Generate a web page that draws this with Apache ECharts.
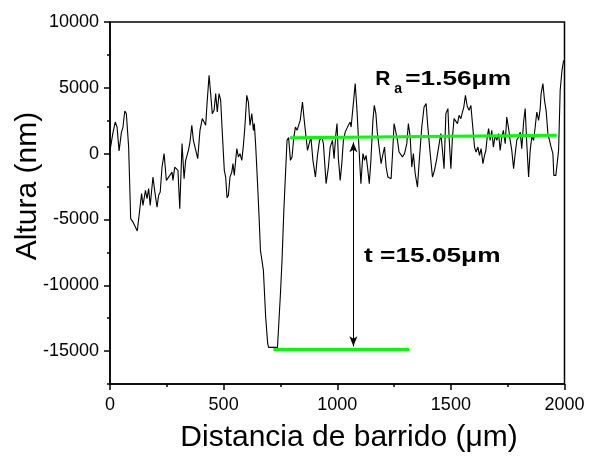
<!DOCTYPE html>
<html><head><meta charset="utf-8">
<script src="https://cdn.jsdelivr.net/npm/echarts@6/dist/echarts.min.js"></script>
<style>html,body{margin:0;padding:0;background:#fff}#c{width:589px;height:456px}</style>
</head><body><div id="c"></div>
<script>
// profile: scan distance (µm) and height (nm)
const distance = [0,12,23,31,40,50,57,65,72,82,91,101,109,120,139,145,156,163,170,177,189,198,207,214,221,229,238,248,258,265,273,277,285,292,299,307,317,326,333,345,352,360,367,374,386,396,406,414,421,427,436,443,450,458,465,472,480,487,494,503,509,515,521,528,536,541,547,553,558,565,572,580,587,594,602,609,616,624,631,635,641,650,656,662,675,685,694,698,737,750,757,765,779,786,794,801,809,816,823,829,837,847,854,860,869,876,884,893,904,913,922,932,939,951,961,969,979,986,994,999,1005,1013,1020,1027,1035,1042,1049,1057,1061,1068,1079,1086,1093,1104,1113,1120,1127,1133,1141,1148,1157,1163,1170,1176,1181,1193,1200,1208,1215,1223,1230,1237,1245,1250,1258,1265,1272,1280,1287,1296,1306,1313,1321,1328,1335,1343,1353,1360,1372,1382,1391,1398,1409,1419,1428,1438,1446,1456,1463,1470,1478,1487,1492,1500,1507,1514,1522,1529,1536,1544,1551,1557,1564,1572,1580,1588,1595,1604,1611,1619,1626,1633,1641,1648,1654,1660,1666,1673,1680,1687,1695,1702,1710,1717,1724,1731,1739,1746,1753,1761,1768,1776,1783,1790,1798,1805,1812,1820,1827,1834,1842,1849,1856,1864,1871,1878,1886,1893,1897,1905,1912,1919,1927,1934,1941,1949,1953,1962,1968,1974,1981,1989,1996];
const height = [200,1500,2400,2020,200,1600,2000,3240,3040,500,-4940,-5200,-5320,-5880,-3040,-3930,-2790,-3420,-2660,-3930,-1780,-3000,-4060,-3170,-2920,-1020,0,-2030,-1780,-1650,-1400,-2030,-1020,-890,-1270,-4180,760,-1900,-510,250,880,2150,1010,1140,-380,1770,2660,2400,2150,3800,5950,4560,3040,3290,4560,3160,4560,4050,1640,-1270,-1780,-3340,-3170,-1780,-1400,-760,-1650,-510,380,-250,0,-510,630,2150,4430,3920,2150,3040,1770,2280,630,-2540,-4820,-7350,-8870,-12420,-14440,-14720,-14720,-10640,-8110,-4310,1010,1220,-510,-250,1260,2020,1770,1900,2530,3920,2660,2530,250,250,1260,-510,-1780,-130,1010,1260,760,-2280,-1020,500,1010,-380,1520,2280,-380,-2030,-760,1010,1640,1900,2150,2400,2020,3290,5320,3540,1260,-2280,0,-510,-130,-1020,-2280,-510,2530,3670,3040,1640,1520,-760,-130,500,-1020,-1780,-1650,-1900,500,2280,1640,1010,120,0,-250,0,760,2280,1260,-1020,0,-1520,-2540,-760,2020,3540,3800,2150,0,-1780,-1270,-380,500,1520,250,-1140,3040,3420,1260,-1140,1260,2660,2780,2280,2910,2660,3160,3540,4430,3600,3290,3670,2280,500,120,500,-130,380,-760,-130,250,1260,1900,1010,1770,500,1390,1010,1520,250,1260,1770,760,2780,2020,1010,250,-1140,0,1010,1260,1640,380,2400,3420,760,-1780,250,1260,1010,2020,3160,2530,3420,4560,5320,4050,3290,1520,1010,500,0,-1650,-1650,-1520,250,4810,6330,7090];

// reference lines (green) and thickness arrow
const raLineX = [792, 1966];
const raLineY = [1215, 1390];
const tLineX = [719, 1316];
const tLineY = [-14870, -14870];
const arrowX = 1071;
const arrowYTop = 860;
const arrowYBottom = -14640;

// axis ticks
const yMajor = [-15000, -10000, -5000, 0, 5000, 10000];
const yMinor = [-17500, -12500, -7500, -2500, 2500, 7500];

// annotation texts and their anchors (data coords, at text baseline)
const raText = { main: 'R', sub: 'a', rest: '=1.56\u03bcm', x: 1167, y: 5115 };
const tText = { text: 't =15.05\u03bcm', x: 1118, y: -8360 };
const xTitle = 'Distancia de barrido (\u03bcm)';
const yTitle = 'Altura (nm)';

const FONT = "'Liberation Sans', Arial, sans-serif";
const blk = { color: '#000', width: 1.5 };
const plain = v => String(v);

const chart = echarts.init(document.getElementById('c'), null, { renderer: 'canvas' });
const option = {
  animation: false,
  backgroundColor: '#fff',
  grid: { left: 110, right: 24.5, top: 22, bottom: 72, show: true, borderColor: '#000', borderWidth: 1.5 },
  xAxis: {
    type: 'value', min: 0, max: 2000, interval: 500,
    axisLine: { onZero: false, lineStyle: blk },
    axisTick: { inside: false, length: 6, lineStyle: blk },
    minorTick: { show: true, splitNumber: 2, length: 3, lineStyle: blk },
    axisLabel: { fontSize: 18, color: '#000', fontFamily: FONT, margin: 12, formatter: plain },
    splitLine: { show: false }, minorSplitLine: { show: false }
  },
  yAxis: [{
    type: 'value', min: -17500, max: 10000, interval: 2500, position: 'left',
    axisLine: { onZero: false, lineStyle: blk },
    axisTick: { inside: false, length: 6, customValues: yMajor, lineStyle: blk },
    axisLabel: { customValues: yMajor, fontSize: 18, color: '#000', fontFamily: FONT, margin: 11, formatter: plain },
    splitLine: { show: false }
  }, {
    type: 'value', min: -17500, max: 10000, interval: 2500, position: 'left', offset: 0,
    axisLine: { show: false, onZero: false },
    axisTick: { inside: false, length: 3, customValues: yMinor, lineStyle: blk },
    axisLabel: { show: false },
    splitLine: { show: false }
  }],
  series: [{
    type: 'line', yAxisIndex: 0,
    data: distance.map((d, i) => [d, height[i]]),
    showSymbol: false, symbol: 'none',
    lineStyle: { color: '#000', width: 1.1 }, z: 3
  }, {
    type: 'line', yAxisIndex: 0,
    data: raLineX.map((d, i) => [d, raLineY[i]]),
    showSymbol: false, symbol: 'none',
    lineStyle: { color: '#00ff00', width: 3 }, z: 4
  }, {
    type: 'line', yAxisIndex: 0,
    data: tLineX.map((d, i) => [d, tLineY[i]]),
    showSymbol: false, symbol: 'none',
    lineStyle: { color: '#00ff00', width: 3 }, z: 4,
    markLine: {
      silent: true, symbol: ['arrow', 'arrow'], symbolSize: [6, 10],
      label: { show: false },
      lineStyle: { color: '#000', width: 1, type: 'solid' },
      emphasis: { disabled: true },
      data: [[{ coord: [arrowX, arrowYTop] }, { coord: [arrowX, arrowYBottom] }]]
    }
  }]
};
chart.setOption(option);

const p = (x, y) => chart.convertToPixel({ gridIndex: 0 }, [x, y]);
const ra = p(raText.x, raText.y);
const tt = p(tText.x, tText.y);
const bold = 'bold 21px ' + FONT;
const sx = 1.25;
// text drawn with middle alignment, centred ~0.36em above baseline
const mid = 7.5;
chart.setOption({
  graphic: [
    { type: 'text', x: ra[0], y: ra[1] - mid, style: { text: raText.main, font: bold, fill: '#000', textAlign: 'left', textVerticalAlign: 'middle' } },
    { type: 'text', x: ra[0] + 19, y: ra[1] + 3, style: { text: raText.sub, font: 'bold 14px ' + FONT, fill: '#000', textAlign: 'left', textVerticalAlign: 'middle' } },
    { type: 'text', x: ra[0] + 30, y: ra[1] - mid, scaleX: sx, style: { text: raText.rest, font: bold, fill: '#000', textAlign: 'left', textVerticalAlign: 'middle' } },
    { type: 'text', x: tt[0], y: tt[1] - mid, scaleX: sx, style: { text: tText.text, font: bold, fill: '#000', textAlign: 'left', textVerticalAlign: 'middle' } },
    { type: 'text', x: 349, y: 438, style: { text: xTitle, font: '30px ' + FONT, fill: '#000', textAlign: 'center', textVerticalAlign: 'middle' } },
    { type: 'text', x: 28, y: 186, rotation: Math.PI / 2, style: { text: yTitle, font: '30px ' + FONT, fill: '#000', textAlign: 'center', textVerticalAlign: 'middle' } }
  ]
});
</script></body></html>
